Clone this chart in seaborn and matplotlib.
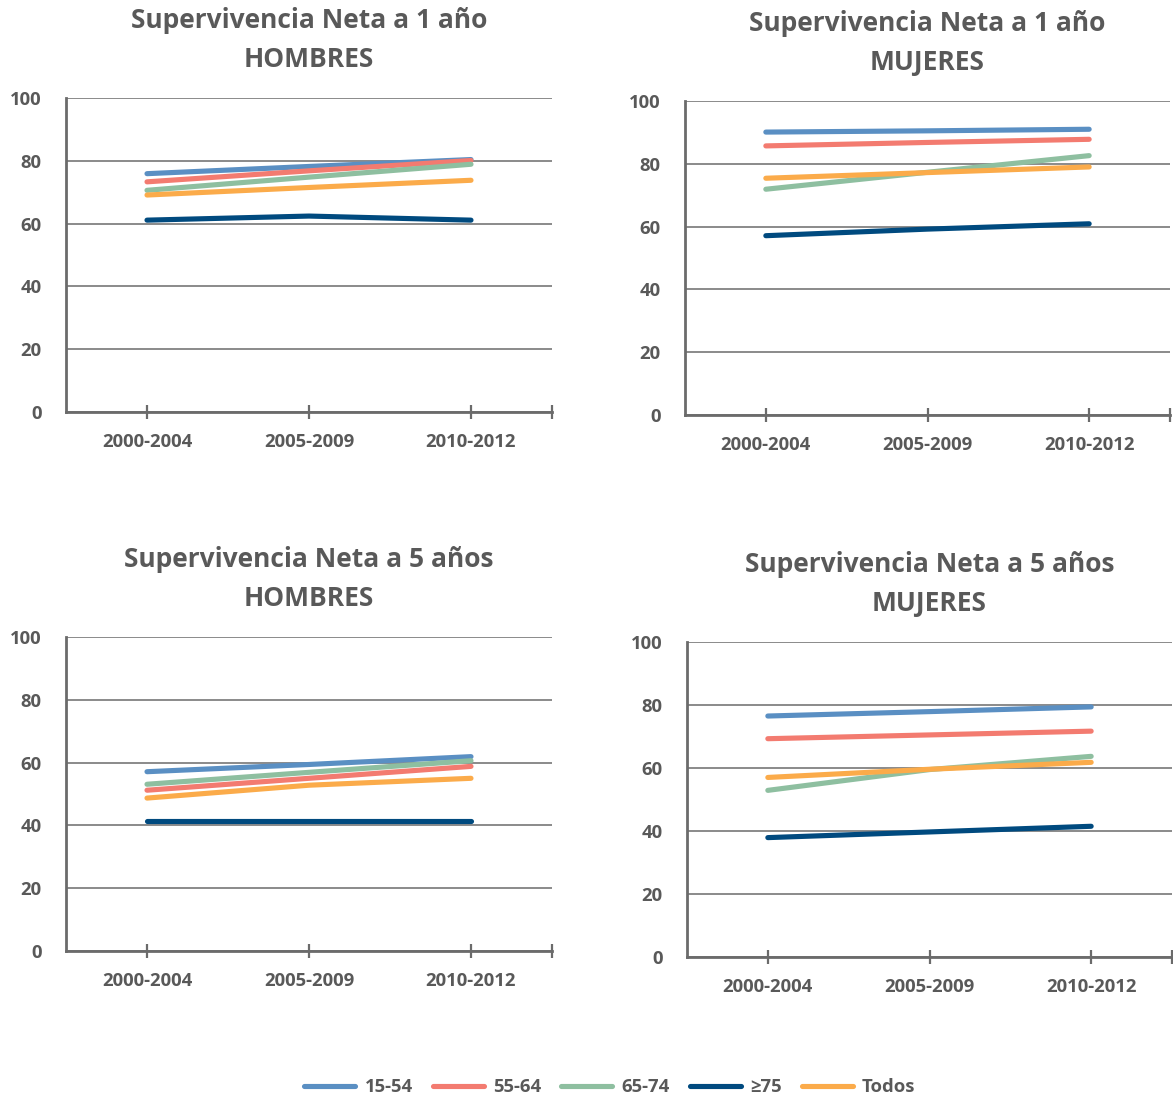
import matplotlib
matplotlib.use("Agg")
import matplotlib.pyplot as plt
from matplotlib import font_manager as fm
import pandas as pd
import seaborn as sns

# Data
periods = ["2000-2004", "2005-2009", "2010-2012"]
groups = ["15-54", "55-64", "65-74", "≥75", "Todos"]

hombres_1 = {
    "15-54": [75.9, 78.2, 80.4],
    "55-64": [73.3, 76.8, 80.1],
    "65-74": [70.6, 74.8, 78.9],
    "≥75": [61.1, 62.4, 61.1],
    "Todos": [69.1, 71.5, 73.8],
}
mujeres_1 = {
    "15-54": [90.1, 90.5, 91.0],
    "55-64": [85.7, 86.8, 87.8],
    "65-74": [71.9, 77.3, 82.6],
    "≥75": [57.1, 59.2, 60.9],
    "Todos": [75.4, 77.2, 79.0],
}
hombres_5 = {
    "15-54": [57.1, 59.4, 61.9],
    "55-64": [51.2, 55.0, 58.8],
    "65-74": [53.1, 56.9, 60.6],
    "≥75": [41.3, 41.3, 41.3],
    "Todos": [48.7, 52.8, 55.0],
}
mujeres_5 = {
    "15-54": [76.5, 77.9, 79.4],
    "55-64": [69.3, 70.5, 71.7],
    "65-74": [52.9, 59.5, 63.7],
    "≥75": [37.9, 39.7, 41.5],
    "Todos": [57.0, 59.6, 61.8],
}

colors = {"15-54": "#5a8fc3", "55-64": "#f37b70", "65-74": "#8ebfa0",
          "≥75": "#004a7f", "Todos": "#fbab4a"}
gray = "#595959"

sns.set_style("white")
plt.rcParams["font.family"] = ["Open Sans", "DejaVu Sans"]

# pick a regular-width bold Open Sans file if there is one
bold_file = None
for f in fm.fontManager.ttflist:
    fname = f.fname.lower()
    if f.name == "Open Sans" and "condensed" not in fname and "italic" not in fname:
        if f.weight in (700, "bold") or "bold" in fname and "semi" not in fname and "extra" not in fname:
            bold_file = f.fname
            break


def fp(size):
    if bold_file:
        return fm.FontProperties(fname=bold_file, size=size)
    return fm.FontProperties(family=["Open Sans", "DejaVu Sans"], weight="bold", size=size)


def to_long(d):
    rows = []
    for g in groups:
        for p, v in zip(periods, d[g]):
            rows.append({"period": p, "group": g, "value": v})
    return pd.DataFrame(rows)


fig = plt.figure(figsize=(11.73, 11.01), dpi=100)
W, H = 1173, 1101
panels = [
    (hombres_1, "Supervivencia Neta a 1 año\nHOMBRES", (66, 98, 552, 412)),
    (mujeres_1, "Supervivencia Neta a 1 año\nMUJERES", (685, 101, 1170, 415)),
    (hombres_5, "Supervivencia Neta a 5 años\nHOMBRES", (66, 637, 552, 951)),
    (mujeres_5, "Supervivencia Neta a 5 años\nMUJERES", (687, 642, 1172, 957)),
]

for data, title, (x0, y0, x1, y1) in panels:
    ax = fig.add_axes([x0 / W, 1 - y1 / H, (x1 - x0) / W, (y1 - y0) / H])
    df = to_long(data)
    sns.lineplot(data=df, x="period", y="value", hue="group", palette=colors,
                 linewidth=3.7, ax=ax, legend=False, sort=False)
    ax.set_xlim(-0.5, 2.5)
    ax.set_ylim(0, 100)
    ax.set_yticks([0, 20, 40, 60, 80, 100])
    ax.yaxis.grid(True, color="#6b6b6b", linewidth=1.1)
    ax.set_axisbelow(True)
    ax.set_xticks([0, 1, 2, 2.5])
    ax.set_xticklabels(periods + [""])
    ax.set_xlabel("")
    ax.set_ylabel("")
    for s in ["top", "right"]:
        ax.spines[s].set_visible(False)
    for s in ["left", "bottom"]:
        ax.spines[s].set_color("#6b6b6b")
        ax.spines[s].set_linewidth(2)
    ax.tick_params(axis="x", bottom=True, direction="inout", length=10, width=1.6,
                   color="#6b6b6b", labelcolor=gray, pad=10)
    ax.tick_params(axis="y", left=False, labelcolor=gray, pad=14)
    for lab in ax.get_xticklabels() + ax.get_yticklabels():
        lab.set_fontproperties(fp(13.3))
    ax.set_title(title, fontproperties=fp(19), color=gray,
                 linespacing=1.6, pad=22)

handles = [plt.Line2D([], [], color=colors[g], linewidth=3.7) for g in groups]
leg = fig.legend(handles, groups, loc="center", bbox_to_anchor=(0.52, 1 - 1087 / H),
                 ncol=5, frameon=False, handlelength=2.75, columnspacing=1.1,
                 handletextpad=0.5, prop=fp(13.3))
for t in leg.get_texts():
    t.set_color(gray)

fig.savefig("out.png", dpi=100)
